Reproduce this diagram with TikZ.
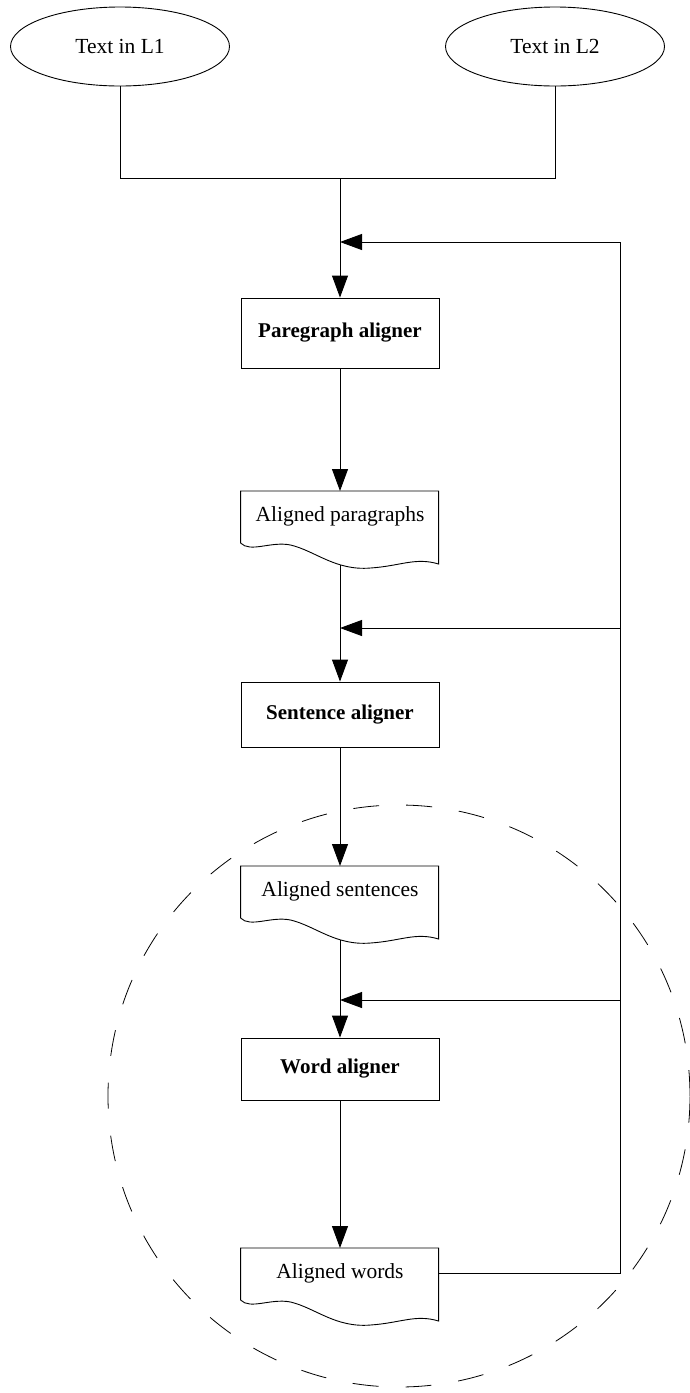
\documentclass[tikz,border=0pt]{standalone}
\usepackage{fontspec}
\setmainfont{Liberation Serif}
\usetikzlibrary{shapes.geometric,arrows.meta}

% wavy "document" outline hung from the north west corner of a node
\newcommand{\docoutline}[1]{%
  \begin{scope}[shift={(#1.north west)}]
    \draw (0,52) -- (0,0) -- (198,0) -- (198,73)
      .. controls (175,66) and (160,75) .. (130,77)
      .. controls (95,80) and (75,60) .. (50,54)
      .. controls (30,50) and (10,62) .. (0,52);
  \end{scope}}

\begin{document}
\begin{tikzpicture}[x=1pt,y=-1pt,line width=0.9pt,
  txt/.style={font=\fontsize{21.5}{25}\selectfont},
  src/.style={txt,ellipse,draw,minimum width=219pt,minimum height=79pt,inner sep=0pt},
  proc/.style={draw,rectangle,minimum width=198pt,inner sep=0pt,
    font=\fontsize{21}{25}\selectfont\bfseries},
  docnode/.style={txt,rectangle,minimum width=198pt,minimum height=50pt,inner sep=0pt},
  flow/.style={-{Triangle[length=22pt,width=16pt]}},
  zone/.style={circle,draw,dash pattern=on 26pt off 27pt,line width=0.8pt,
    minimum size=582pt,inner sep=0pt}]

\useasboundingbox (0,0) rectangle (690,1393);

% inputs
\node[src] (l1) at (120,46.5) {Text in L1};
\node[src] (l2) at (555,46.5) {Text in L2};
\coordinate (j) at (340,178);

% pipeline
\node[proc,minimum height=70pt] (pa) at (340,333) {Paregraph aligner};
\node[docnode,anchor=north] (dp) at (340,491) {Aligned paragraphs};
\node[proc,minimum height=65pt] (sa) at (340,714.5) {Sentence aligner};
\node[docnode,anchor=north] (ds) at (340,866) {Aligned sentences};
\node[proc,minimum height=62pt] (wa) at (340,1069) {Word aligner};
\node[docnode,anchor=north] (dw) at (340,1248) {Aligned words};

\docoutline{dp}
\docoutline{ds}
\docoutline{dw}

% points where the main line leaves each wavy bottom
\coordinate (dpb) at (340,565);
\coordinate (dsb) at (340,940);

% dashed region around the word level
\node[zone] (z) at (399,1096) {};

% merging the two inputs
\draw (l1.south) -- (l1.south |- j) -- (l2.south |- j) -- (l2.south);

% main flow
\draw[flow] (j) -- (pa.north);
\draw[flow] (pa.south) -- (dp.north);
\draw[flow] (dpb) -- (sa.north);
\draw[flow] (sa.south) -- (ds.north);
\draw[flow] (dsb) -- (wa.north);
\draw[flow] (wa.south) -- (dw.north);

% feedback loop
\coordinate (fb1) at (620,242);
\coordinate (fb2) at (620,628);
\coordinate (fb3) at (620,1000);
\coordinate (fb4) at (fb1 |- dw.east);
\draw (dw.east) -- (fb4) -- (fb1);
\draw[flow] (fb1) -- (fb1 -| pa.north);
\draw[flow] (fb2) -- (fb2 -| pa.north);
\draw[flow] (fb3) -- (fb3 -| pa.north);
\end{tikzpicture}
\end{document}
